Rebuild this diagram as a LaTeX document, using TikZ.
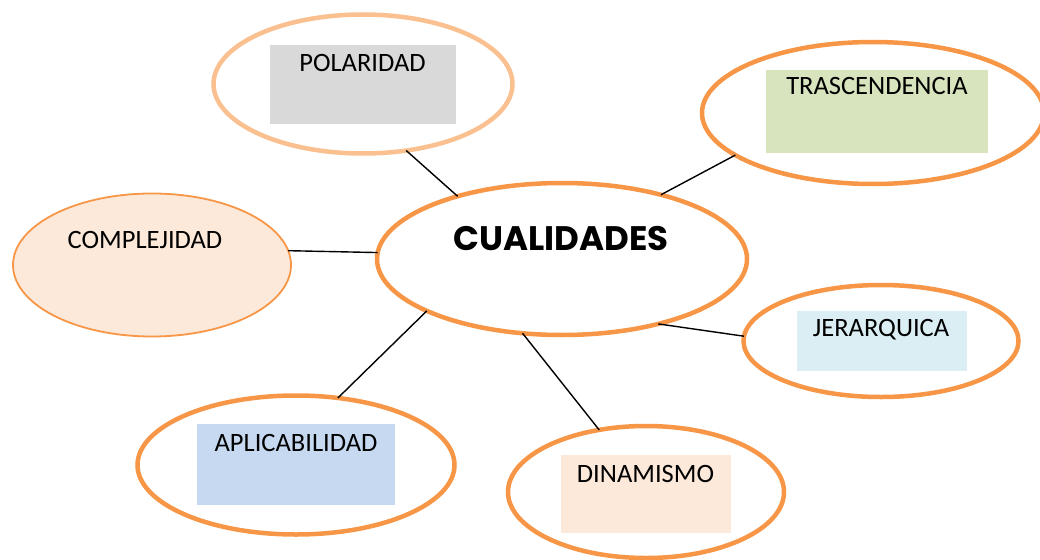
\documentclass[tikz,border=0pt]{standalone}
\usepackage{fontspec}
\setmainfont{Carlito}
\newfontfamily\titlefont{Poppins}
\usetikzlibrary{shapes.geometric}
\definecolor{orng}{HTML}{F79646}
\definecolor{lorng}{HTML}{FAC090}
\definecolor{peach}{HTML}{FDE9D9}
\definecolor{greyfill}{HTML}{D9D9D9}
\definecolor{greenfill}{HTML}{D7E4BD}
\definecolor{lbluefill}{HTML}{DBEEF4}
\definecolor{bluefill}{HTML}{C6D9F1}
\tikzset{
  oval/.style={ellipse, draw=orng, line width=4.5pt, inner sep=0pt, outer sep=0pt},
  box/.style={rectangle, draw=none, inner sep=0pt, outer sep=0pt},
  lbl/.style={anchor=base, inner sep=0pt, font=\fontsize{26.5}{30}\selectfont},
  link/.style={draw=black, line width=1.4pt},
}
\begin{document}
\begin{tikzpicture}[x=1pt, y=-1pt]
\useasboundingbox (0,0) rectangle (1040,559);
% ellipses
\node[oval, draw=lorng, minimum width=299pt, minimum height=139pt] (pol) at (363,84) {};
\node[oval, minimum width=342pt, minimum height=142pt] (tra) at (873,113) {};
\node[ellipse, draw=orng, fill=peach, line width=1.8pt, inner sep=0pt, outer sep=0pt, minimum width=278pt, minimum height=143pt] (com) at (152,265) {};
\node[oval, minimum width=370pt, minimum height=152pt] (cua) at (562,259) {};
\node[oval, minimum width=275pt, minimum height=112pt] (jer) at (881,341) {};
\node[oval, minimum width=317pt, minimum height=139pt] (apl) at (296,465) {};
\node[oval, minimum width=276pt, minimum height=132pt] (din) at (646,492) {};
% coloured boxes
\node[box, fill=greyfill, minimum width=186pt, minimum height=79pt] (polbox) at (363,84.5) {};
\node[box, fill=greenfill, minimum width=222pt, minimum height=83pt] (trabox) at (877,111.5) {};
\node[box, fill=lbluefill, minimum width=170pt, minimum height=60pt] (jerbox) at (882,341) {};
\node[box, fill=bluefill, minimum width=198pt, minimum height=81pt] (aplbox) at (296,464.5) {};
\node[box, fill=peach, minimum width=170pt, minimum height=78pt] (dinbox) at (646,494) {};
% labels
\node[lbl] (poltxt) at (362.5,72) {POLARIDAD};
\node[lbl] (tratxt) at (877,95) {TRASCENDENCIA};
\node[lbl] (comtxt) at (145,248) {COMPLEJIDAD};
\node[anchor=base, inner sep=0pt, font=\titlefont\bfseries\fontsize{34}{38}\selectfont] (cuatxt) at (561,250) {CUALIDADES};
\node[lbl] (jertxt) at (881,336) {JERARQUICA};
\node[lbl] (apltxt) at (296,451) {APLICABILIDAD};
\node[lbl] (dintxt) at (645.5,482) {DINAMISMO};
% connectors
\draw[link] (pol.-57) -- (cua.149);
\draw[link] (tra.197) -- (cua.33.4);
\draw[link] (com.6.2) -- (cua.178.8);
\draw[link] (jer.178.3) -- (cua.-34.2);
\draw[link] (apl.58.7) -- (cua.201.5);
\draw[link] (din.127.6) -- (cua.242.3);
\end{tikzpicture}
\end{document}
